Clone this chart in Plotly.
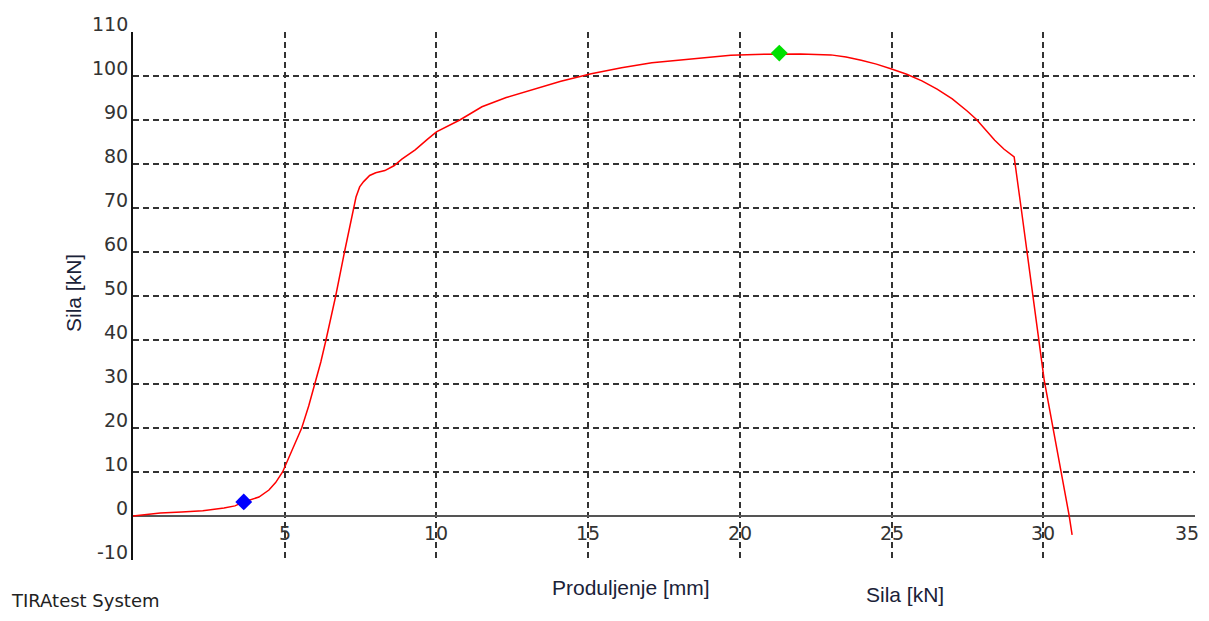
import plotly.graph_objects as go

# elongation [mm] and force [kN]
produljenje = [0.0, 0.5, 0.9, 1.6, 2.3, 3.0, 3.36, 3.65, 4.15, 4.48, 4.7, 4.93, 5.25,
               5.56, 5.79, 6.0, 6.19, 6.36, 6.68, 6.97, 7.27, 7.35, 7.47, 7.6, 7.8,
               8.0, 8.3, 8.6, 8.86, 9.3, 9.7, 10.0, 10.77, 11.5, 12.3, 13.1, 14.1,
               15.1, 16.1, 17.1, 18.7, 19.7, 20.5, 21.3, 22.0, 23.0, 23.5, 24.0, 24.5,
               25.0, 25.5, 26.0, 26.5, 27.0, 27.5, 27.8, 28.1, 28.4, 28.7, 29.04,
               29.27, 30.03, 30.85, 30.95]
sila = [0.0, 0.4, 0.7, 0.9, 1.2, 1.8, 2.3, 3.2, 4.3, 5.9, 7.6, 10.0, 15.0,
        20.0, 25.0, 30.0, 35.0, 40.0, 50.0, 60.0, 70.0, 72.5, 74.8, 76.0, 77.4,
        78.0, 78.5, 79.6, 81.1, 83.2, 85.6, 87.3, 90.0, 93.0, 95.1, 96.8, 98.8,
        100.5, 101.9, 103.0, 104.0, 104.7, 104.9, 105.0, 105.0, 104.8, 104.3, 103.6, 102.7,
        101.6, 100.4, 98.9, 97.0, 94.8, 92.0, 90.1, 87.8, 85.4, 83.4, 81.6,
        70.0, 30.9, 0.2, -4.3]

start_point = (3.65, 3.2)
max_point = (21.3, 105.2)

x_ticks = [5, 10, 15, 20, 25, 30, 35]
y_ticks = [-10, 0, 10, 20, 30, 40, 50, 60, 70, 80, 90, 100, 110]

fig = go.Figure()
fig.add_trace(go.Scatter(x=produljenje, y=sila, mode="lines",
                         line=dict(color="#ff0000", width=1.5), showlegend=False))
fig.add_trace(go.Scatter(x=[start_point[0]], y=[start_point[1]], mode="markers",
                         marker=dict(color="#0000ff", size=13, symbol="diamond"),
                         showlegend=False))
fig.add_trace(go.Scatter(x=[max_point[0]], y=[max_point[1]], mode="markers",
                         marker=dict(color="#00e000", size=13, symbol="diamond"),
                         showlegend=False))

# the page body adds 8px of margin, so everything is laid out 8px up/left
W, H = 1193, 605
L, R, T, B = 125, 6, 24, 53
pw, ph = W - L - R, H - T - B


def px(x):
    return (x - 8 - L) / pw


def py(y):
    return (H - B - (y - 8)) / ph


tick_font = dict(family="DejaVu Sans", size=19, color="#333333")
title_font = dict(family="Liberation Sans", size=21, color="#1a2238")

annotations = []
for v in y_ticks:
    annotations.append(dict(x=0, xref="paper", y=v, yref="y", text=str(v),
                            showarrow=False, xanchor="right", yanchor="middle",
                            xshift=-3, yshift=8, font=tick_font))
for v in x_ticks:
    last = v == x_ticks[-1]
    annotations.append(dict(x=v, xref="x", y=0, yref="y", text=str(v),
                            showarrow=False, xanchor="right" if last else "center",
                            yanchor="middle", xshift=R if last else 0,
                            yshift=-17, font=tick_font))

annotations += [
    dict(x=px(631), y=py(587), xref="paper", yref="paper", text="Produljenje [mm]",
         showarrow=False, xanchor="center", yanchor="middle", font=title_font),
    dict(x=px(905), y=py(594), xref="paper", yref="paper", text="Sila [kN]",
         showarrow=False, xanchor="center", yanchor="middle", font=title_font),
    dict(x=px(73), y=py(293), xref="paper", yref="paper", text="Sila [kN]",
         showarrow=False, xanchor="center", yanchor="middle", textangle=-90,
         font=title_font),
    dict(x=px(9), y=py(600), xref="paper", yref="paper", text="TIRAtest System",
         showarrow=False, xanchor="left", yanchor="middle",
         font=dict(family="DejaVu Sans", size=18, color="#222222")),
]

fig.update_layout(
    width=W, height=H,
    margin=dict(l=L, r=R, t=T, b=B),
    paper_bgcolor="white", plot_bgcolor="white",
    annotations=annotations,
    xaxis=dict(range=[0, 35], tickvals=x_ticks, showticklabels=False, ticks="",
               showgrid=True, gridcolor="#333333", griddash="6px,4px", gridwidth=1.5,
               zeroline=False, showline=False),
    yaxis=dict(range=[-10, 110], tickvals=y_ticks, showticklabels=False, ticks="",
               showgrid=True, gridcolor="#333333", griddash="6px,4px", gridwidth=1.5,
               zeroline=True, zerolinecolor="#555555", zerolinewidth=2,
               showline=True, linecolor="#111111", linewidth=2),
)

fig.write_html("out.html")
